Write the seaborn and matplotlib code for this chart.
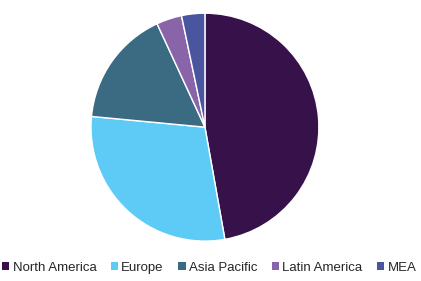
import matplotlib
matplotlib.use("Agg")
import matplotlib.pyplot as plt
import seaborn as sns
from matplotlib.patches import Patch

sns.set_theme(style="white")
plt.rcParams['font.family'] = ['Liberation Sans', 'DejaVu Sans']

regions = ["North America", "Europe", "Asia Pacific", "Latin America", "MEA"]
shares = [47.2, 29.3, 16.6, 3.6, 3.3]
colors = ["#36114a", "#5ecbf7", "#3a6b82", "#8a64a8", "#4a55a0"]

fig = plt.figure(figsize=(4.21, 2.81), dpi=100)
ax = fig.add_axes([0.216, 0.142, 0.5416, 0.811])
ax.pie(shares, colors=colors, startangle=90, counterclock=False,
       wedgeprops=dict(edgecolor="white", linewidth=1))
ax.set_xlim(-1.0, 1.0)
ax.set_ylim(-1.0, 1.0)
ax.set_aspect("equal")
ax.axis("off")

handles = [Patch(facecolor=c, edgecolor="none") for c in colors]
fig.legend(handles, regions, loc="center", bbox_to_anchor=(0.497, 0.046), ncol=5,
           frameon=False, fontsize=9.5, handlelength=0.55, handleheight=0.55,
           handletextpad=0.25, columnspacing=1.1, borderaxespad=0)

fig.savefig("out.png", dpi=100)
